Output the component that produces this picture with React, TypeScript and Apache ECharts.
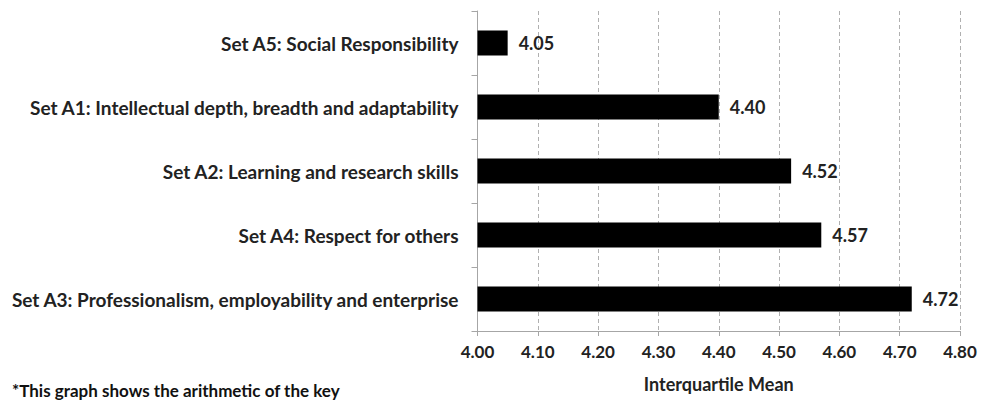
import React, { useEffect, useRef } from "react";
import * as echarts from "echarts";

const categories = [
  "Set A5: Social Responsibility",
  "Set A1: Intellectual depth, breadth and adaptability",
  "Set A2: Learning and research skills",
  "Set A4: Respect for others",
  "Set A3: Professionalism, employability and enterprise",
];
const values = [4.05, 4.4, 4.52, 4.57, 4.72];
const xTitle = "Interquartile Mean";
const footnote = "*This graph shows the arithmetic of the key";

const FONT = "Lato, 'Open Sans', sans-serif";

export default function App() {
  const ref = useRef<HTMLDivElement>(null);
  useEffect(() => {
    if (!ref.current) return;
    const chart = echarts.init(ref.current, undefined, { renderer: "svg" });
    chart.setOption({
      animation: false,
      backgroundColor: "#ffffff",
      textStyle: { fontFamily: FONT },
      grid: { left: 477.5, right: 21, top: 11, bottom: 69, containLabel: false },
      xAxis: {
        type: "value",
        min: 4.0,
        max: 4.8,
        interval: 0.1,
        name: xTitle,
        nameLocation: "middle",
        nameGap: 44,
        nameTextStyle: { fontFamily: FONT, fontWeight: "bold", fontSize: 18, color: "#222" },
        axisLine: { show: true, lineStyle: { color: "#a6a6a6", width: 1 } },
        axisTick: { show: true, length: 5, lineStyle: { color: "#a6a6a6" } },
        axisLabel: {
          fontFamily: FONT,
          fontWeight: "bold",
          fontSize: 17,
          color: "#222",
          margin: 12,
          formatter: (v: number) => v.toFixed(2),
        },
        splitLine: { show: true, lineStyle: { color: "#b0b0b0", type: [4, 3], width: 1 } },
      },
      yAxis: {
        type: "category",
        data: categories,
        inverse: true,
        axisLine: { show: true, lineStyle: { color: "#a6a6a6", width: 1 } },
        axisTick: { show: true, length: 6, lineStyle: { color: "#a6a6a6" } },
        axisLabel: {
          fontFamily: FONT,
          fontWeight: "bold",
          fontSize: 19,
          color: "#222",
          margin: 19,
        },
        splitLine: { show: false },
      },
      series: [
        {
          type: "bar",
          data: values,
          barWidth: 25,
          itemStyle: { color: "#000000" },
          label: {
            show: true,
            position: "right",
            distance: 11,
            fontFamily: FONT,
            fontWeight: "bold",
            fontSize: 18,
            color: "#222",
            formatter: (p: any) => Number(p.value).toFixed(2),
          },
        },
      ],
      graphic: [
        {
          type: "text",
          left: 12,
          top: 382,
          style: {
            text: footnote,
            fontFamily: FONT,
            fontWeight: "bold",
            fontSize: 17,
            fill: "#111",
          },
        },
      ],
    });
    return () => chart.dispose();
  }, []);
  return (
    <div
      ref={ref}
      style={{ position: "fixed", left: 0, top: 0, width: 981, height: 400, background: "#fff" }}
    />
  );
}
